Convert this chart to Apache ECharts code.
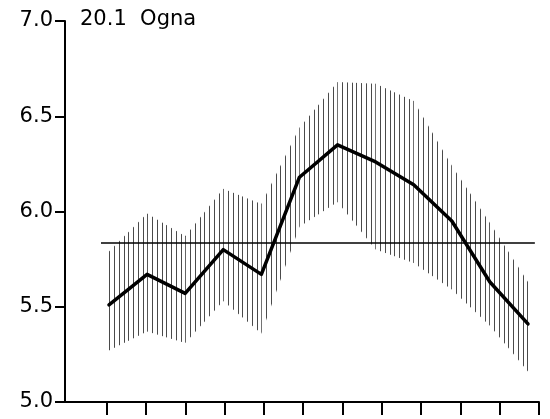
<!DOCTYPE html>
<html><head><meta charset="utf-8">
<script src="https://cdn.jsdelivr.net/npm/echarts@6/dist/echarts.min.js"></script>
<style>html,body{margin:0;padding:0;background:#fff}#c{width:550px;height:419px}</style>
</head><body><div id="c"></div>
<script>
// ---- data ----
const titleText = '20.1  Ogna';
const months = [0, 1, 2, 3, 4, 5, 6, 7, 8, 9, 10, 11];
const meanValues  = [5.51, 5.67, 5.57, 5.80, 5.67, 6.18, 6.35, 6.26, 6.14, 5.95, 5.63, 5.41];
const upperValues = [5.79, 5.99, 5.87, 6.12, 6.04, 6.44, 6.68, 6.67, 6.58, 6.24, 5.94, 5.63];
const lowerValues = [5.27, 5.37, 5.31, 5.53, 5.36, 5.92, 6.05, 5.80, 5.73, 5.59, 5.40, 5.16];
const overallMean = 5.835;
const yTicks = [5.0, 5.5, 6.0, 6.5, 7.0];
const xTickPositions = [0, 1, 2, 3, 4, 5, 6, 7, 8, 9, 10, 11];
const refLineExtent = [-0.21, 11.18];

// ---- hatch pattern ----
const pat = document.createElement('canvas');
pat.width = 19; pat.height = 2;
const pctx = pat.getContext('2d');
pctx.fillStyle = '#4a4a4a';
[0, 5, 10, 14].forEach(x => pctx.fillRect(x, 0, 1, 2));
const hatch = { image: pat, repeat: 'repeat' };

const bandData = months.map((m, i) => [m, lowerValues[i], upperValues[i]]);

const chart = echarts.init(document.getElementById('c'), null, { renderer: 'canvas' });
chart.setOption({
  animation: false,
  backgroundColor: '#fff',
  title: {
    text: titleText, left: 75, top: 4,
    textStyle: { fontFamily: 'DejaVu Sans', fontSize: 21, fontWeight: 'normal', color: '#000' }
  },
  grid: { left: 65, right: 11, top: 21, bottom: 17, containLabel: false },
  xAxis: [
    {
      type: 'value', min: -1.061, max: 11, position: 'bottom', z: 10,
      axisLine: { show: true, onZero: false, lineStyle: { color: '#000', width: 2 } },
      axisTick: { show: true, length: 13, lineStyle: { color: '#000', width: 2 }, customValues: xTickPositions },
      axisLabel: { show: false },
      splitLine: { show: false }
    },
    { type: 'value', min: -1.155, max: 11.289, show: false }
  ],
  yAxis: {
    type: 'value', min: 5, max: 7, interval: 0.5, z: 10,
    axisLine: { show: true, onZero: false, lineStyle: { color: '#000', width: 2 } },
    axisTick: { show: true, length: 10, lineStyle: { color: '#000', width: 2 } },
    axisLabel: {
      margin: 12, color: '#000', fontFamily: 'DejaVu Sans', fontSize: 21,
      formatter: v => yTicks.includes(v) ? v.toFixed(1) : ''
    },
    splitLine: { show: false }
  },
  series: [
    {
      type: 'custom', xAxisIndex: 1, silent: true, z: 1,
      data: bandData,
      encode: { x: 0, y: [1, 2] },
      renderItem: function (params, api) {
        const i = params.dataIndex;
        if (i >= bandData.length - 1) return null;
        const a = bandData[i], b = bandData[i + 1];
        const pts = [
          api.coord([a[0], a[1]]), api.coord([a[0], a[2]]),
          api.coord([b[0], b[2]]), api.coord([b[0], b[1]])
        ];
        return { type: 'polygon', shape: { points: pts }, style: { fill: hatch, stroke: null } };
      }
    },
    {
      type: 'line', xAxisIndex: 1, z: 4, silent: true,
      data: refLineExtent.map(x => [x, overallMean]),
      showSymbol: false, lineStyle: { color: '#000', width: 1.5 }
    },
    {
      type: 'line', xAxisIndex: 1, z: 5, silent: true,
      data: months.map((m, i) => [m, meanValues[i]]),
      showSymbol: false, lineStyle: { color: '#000', width: 3.5, join: 'round', cap: 'round' }
    }
  ]
});
</script>
</body></html>
